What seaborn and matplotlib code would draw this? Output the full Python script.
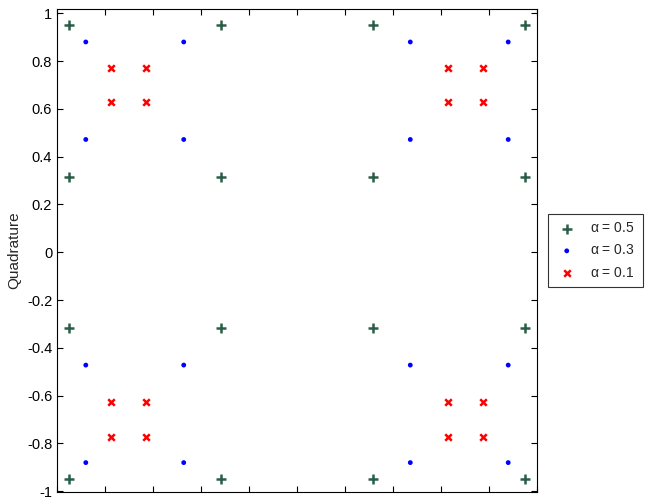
import matplotlib
matplotlib.use('Agg')
import matplotlib.pyplot as plt
import seaborn as sns
import pandas as pd
import numpy as np

# constellation levels (same on I and Q axes) for each roll-off
labels = [r'$\alpha$ = 0.5', r'$\alpha$ = 0.3', r'$\alpha$ = 0.1']
levels_05 = [-0.95, -0.316, 0.316, 0.95]
levels_03 = [-0.88, -0.472, 0.472, 0.88]
levels_01 = [-0.773, -0.628, 0.628, 0.773]

rows = []
for lab, lev in zip(labels, [levels_05, levels_03, levels_01]):
    for i in lev:
        for q in lev:
            rows.append((lab, i, q))
df = pd.DataFrame(rows, columns=['series', 'I', 'Q'])

sns.set_style('white')
plt.rcParams['font.family'] = ['Liberation Sans', 'DejaVu Sans']
plt.rcParams['mathtext.fontset'] = 'dejavuserif'
plt.rcParams['mathtext.default'] = 'regular'

fig = plt.figure(figsize=(6.55, 5.0), dpi=100)
ax = fig.add_axes([57/655, 8/500, 480/655, 483/500])

palette = {labels[0]: '#2b5e48', labels[1]: '#0000ff', labels[2]: '#ff0000'}

for lab in labels:
    sub = df[df['series'] == lab]
    if lab == labels[0]:
        ax.scatter(sub['I'], sub['Q'], marker='+', s=50, linewidths=1.8,
                   color=palette[lab], label=lab)
    elif lab == labels[1]:
        sns.scatterplot(data=sub, x='I', y='Q', marker='o', s=12,
                        color=palette[lab], edgecolor='none', label=lab, ax=ax)
    else:
        ax.scatter(sub['I'], sub['Q'], marker='x', s=22, linewidths=1.8,
                   color=palette[lab], label=lab)

ax.set_xlim(-1, 1)
ax.set_ylim(-1.003, 1.018)
ax.set_xticks(np.arange(-1, 1.01, 0.2))
ax.set_yticks(np.arange(-1, 1.01, 0.2))
ax.set_xticklabels([])
ax.set_yticklabels(['-1', '-0.8', '-0.6', '-0.4', '-0.2', '0',
                    '0.2', '0.4', '0.6', '0.8', '1'])
ax.tick_params(direction='in', top=True, right=True, length=4, width=0.8,
               labelsize=10.5, colors='black', left=True, bottom=True)
ax.set_xlabel('')
ax.set_ylabel('Quadrature', fontsize=11)
for s in ax.spines.values():
    s.set_color('black')
    s.set_linewidth(0.8)

leg = ax.legend(loc='center left', bbox_to_anchor=((548 - 57) / 480, 0.5),
                borderaxespad=0, frameon=True, fancybox=False,
                edgecolor='black', fontsize=10, handletextpad=0.9,
                borderpad=0.55, labelspacing=0.6, handlelength=1.6)
leg.get_frame().set_linewidth(0.8)

fig.savefig('out.png', dpi=100)
